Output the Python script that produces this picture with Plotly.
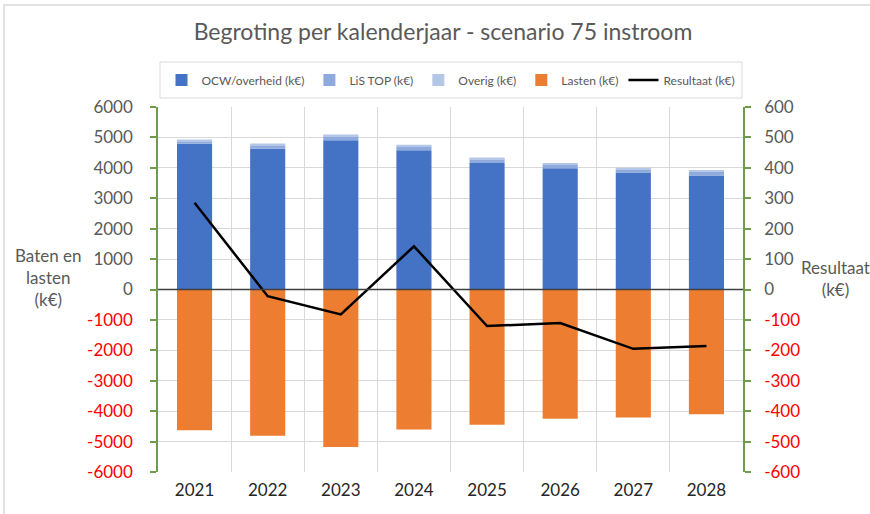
import plotly.graph_objects as go

years = ["2021", "2022", "2023", "2024", "2025", "2026", "2027", "2028"]
ocw = [4790, 4630, 4910, 4580, 4160, 3985, 3850, 3745]
lis_top = [80, 110, 130, 120, 120, 115, 100, 130]
overig = [60, 60, 60, 60, 60, 60, 55, 55]
lasten = [-4630, -4805, -5180, -4600, -4445, -4250, -4205, -4105]
resultaat = [285, -22, -82, 142, -120, -110, -195, -186]

left_ticks = list(range(-6000, 6001, 1000))
right_ticks = list(range(-600, 601, 100))

FONT = "Lato"
GRAY = "#595959"
GREEN = "#6E9B4C"
GRID = "#D9D9D9"


def tick_text(vals):
    out = []
    for v in vals:
        if v < 0:
            out.append(f"<span style='color:#FF0000'>{v}</span>")
        else:
            out.append(f"<span style='color:{GRAY}'>{v}</span>")
    return out


fig = go.Figure()
fig.add_bar(x=years, y=ocw, name="OCW/overheid (k€)", marker_color="#4472C4", marker_line_width=0)
fig.add_bar(x=years, y=lis_top, name="LiS TOP (k€)", marker_color="#8FAADC", marker_line_width=0)
fig.add_bar(x=years, y=overig, name="Overig (k€)", marker_color="#B4C7E7", marker_line_width=0)
fig.add_bar(x=years, y=lasten, name="Lasten (k€)", marker_color="#ED7D31", marker_line_width=0)
fig.add_scatter(x=years, y=resultaat, name="Resultaat (k€)", mode="lines",
                line=dict(color="black", width=2.5), yaxis="y2")

W, H = 870, 514
# plot area in px: x 158..743, y 107..472
fig.update_layout(
    width=W, height=H,
    margin=dict(l=158, r=127, t=107, b=42, autoexpand=False),
    paper_bgcolor="white", plot_bgcolor="white",
    barmode="relative", bargap=0.52,
    font=dict(family=FONT, color=GRAY),
    title=dict(text="Begroting per kalenderjaar - scenario 75 instroom",
               xref="container", yref="container",
               x=443 / W, xanchor="center", y=1 - 32 / H, yanchor="middle",
               font=dict(family=FONT, size=23, color=GRAY)),
    showlegend=True,
    legend=dict(orientation="h", xref="container", yref="container",
                x=451 / W, xanchor="center", y=1 - 80 / H, yanchor="middle",
                bgcolor="rgba(0,0,0,0)", font=dict(family=FONT, size=12, color=GRAY),
                traceorder="normal", itemwidth=30, tracegroupgap=0),
    xaxis=dict(type="category", tickson="boundaries", showgrid=True, gridcolor=GRID,
               gridwidth=1, ticks="", showline=False, zeroline=False,
               tickfont=dict(family=FONT, size=17, color="#262626"),
               ticklabelstandoff=6),
    yaxis=dict(range=[-6000, 6000], tickvals=left_ticks, ticktext=tick_text(left_ticks),
               showgrid=True, gridcolor=GRID, gridwidth=1, zeroline=False,
               showline=True, linecolor=GREEN, linewidth=1.5,
               ticks="outside", ticklen=6, tickcolor=GREEN, tickwidth=1.5,
               tickfont=dict(family=FONT, size=17), ticklabelstandoff=14),
    yaxis2=dict(range=[-600, 600], tickvals=right_ticks, ticktext=tick_text(right_ticks),
                overlaying="y", side="right", showgrid=False, zeroline=False,
                showline=True, linecolor=GREEN, linewidth=1.5,
                ticks="outside", ticklen=6, tickcolor=GREEN, tickwidth=1.5,
                tickfont=dict(family=FONT, size=17), ticklabelstandoff=10),
)

PW, PH = 585.0, 365.0
def px_x(p):
    return (p - 158) / PW
def px_y(p):
    return (472 - p) / PH

# zero line drawn above bars
fig.add_shape(type="line", xref="paper", yref="y", x0=0, x1=1, y0=0, y1=0,
              line=dict(color="#404040", width=1.5), layer="above")
# legend box
fig.add_shape(type="rect", xref="paper", yref="paper",
              x0=px_x(160), x1=px_x(742), y0=px_y(98), y1=px_y(62),
              line=dict(color=GRID, width=1), layer="below")
# chart border
fig.add_shape(type="rect", xref="paper", yref="paper",
              x0=px_x(4), x1=px_x(880), y0=px_y(530), y1=px_y(5),
              line=dict(color=GRID, width=1.5), layer="below")

fig.add_annotation(text="Baten en<br>lasten<br>(k€)", xref="paper", yref="paper",
                   x=px_x(48), y=px_y(277), xanchor="center", yanchor="middle",
                   showarrow=False, font=dict(family=FONT, size=17, color=GRAY))
fig.add_annotation(text="Resultaat<br>(k€)", xref="paper", yref="paper",
                   x=px_x(835), y=px_y(278), xanchor="center", yanchor="middle",
                   showarrow=False, font=dict(family=FONT, size=17, color=GRAY))

fig.write_html("out.html", config={"displayModeBar": False},
               post_script="document.body.style.margin='0';document.body.style.overflow='hidden';")
